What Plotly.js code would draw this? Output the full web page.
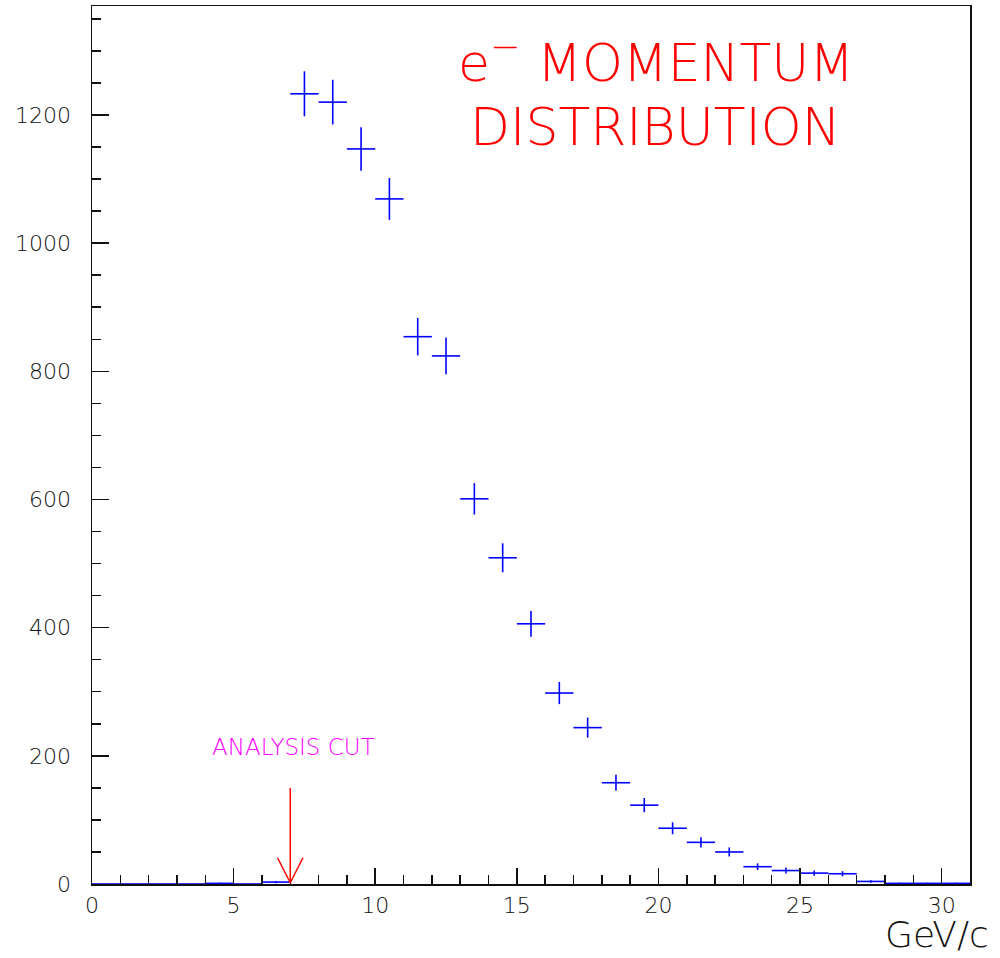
<!DOCTYPE html>
<html>
<head>
<meta charset="utf-8">
<script src="https://cdn.plot.ly/plotly-3.0.1.min.js"></script>
<style>html,body{margin:0;padding:0;background:#fff;}#chart{width:1000px;height:958px;}</style>
</head>
<body>
<div id="chart"></div>
<script>
// Bin centres (GeV/c), 1 GeV/c wide bins
const binCenters = [0.5,1.5,2.5,3.5,4.5,5.5,6.5,7.5,8.5,9.5,10.5,11.5,12.5,13.5,14.5,15.5,16.5,17.5,18.5,19.5,20.5,21.5,22.5,23.5,24.5,25.5,26.5,27.5,28.5,29.5,30.5];
// Entries per bin
const counts = [0,0,0,0,1,0,3,1233,1220,1147,1069,854,824,601,509,406,298,244,158,123,87,65,50,27,21,17,16,4,1,1,1];
// Vertical error
const errors = [0,0,0,0,1,0,1.7,35.1,34.9,33.9,32.7,29.2,28.7,24.5,22.6,20.1,17.3,15.6,12.6,11.1,9.3,8.1,7.1,5.2,4.6,4.1,4,2,1,1,1];
const xTicks = [0,5,10,15,20,25,30];
const xTickText = ['0','5','10','15','20','25','30'];
const yTicks = [0,200,400,600,800,1000,1200];
const yTickText = ['0','200','400','600','800','1000','1200'];
const cutValue = 7;
const cutArrowTop = 150;
const cutLabelX = 7.1;
const cutLabelY = 213;

const trace = {
  x: binCenters, y: counts, type: 'scatter', mode: 'markers',
  marker: {size: 1, color: '#0000ff'},
  error_x: {type: 'constant', value: 0.5, width: 0, thickness: 1.6, color: '#0000ff'},
  error_y: {type: 'data', array: errors, visible: true, width: 0, thickness: 1.6, color: '#0000ff'},
  cliponaxis: false, hoverinfo: 'skip'
};

const tickFont = {family: 'DejaVu Sans', size: 22, color: '#111', weight: 200};
const layout = {
  width: 1000, height: 958,
  margin: {l: 92, r: 30, t: 6, b: 74},
  paper_bgcolor: '#fff', plot_bgcolor: '#fff',
  showlegend: false,
  xaxis: {
    range: [0, 31], tickvals: xTicks, ticktext: xTickText,
    ticks: 'inside', ticklen: 16, tickwidth: 1.5, tickcolor: '#111',
    minor: {dtick: 1, tick0: 0, ticks: 'inside', ticklen: 9, tickwidth: 1.5, tickcolor: '#111', showgrid: false},
    showline: true, linecolor: '#111', linewidth: 1.5, mirror: true,
    showgrid: false, zeroline: false, tickfont: tickFont, ticklabelstandoff: 1
  },
  yaxis: {
    range: [0, 1370], tickvals: yTicks, ticktext: yTickText,
    ticks: 'inside', ticklen: 17, tickwidth: 1.5, tickcolor: '#111',
    minor: {dtick: 50, tick0: 0, ticks: 'inside', ticklen: 9, tickwidth: 1.5, tickcolor: '#111', showgrid: false},
    showline: true, linecolor: '#111', linewidth: 1.5, mirror: true,
    showgrid: false, zeroline: false, tickfont: tickFont, ticklabelstandoff: 15
  },
  shapes: [
    {type: 'line', xref: 'x', yref: 'y', x0: cutValue, x1: cutValue, y0: cutArrowTop, y1: 2, line: {color: '#ff0000', width: 1.5}},
    {type: 'line', xref: 'x', yref: 'y', x0: cutValue - 0.45, x1: cutValue, y0: 41, y1: 2, line: {color: '#ff0000', width: 1.5}},
    {type: 'line', xref: 'x', yref: 'y', x0: cutValue + 0.45, x1: cutValue, y0: 41, y1: 2, line: {color: '#ff0000', width: 1.5}}
  ],
  annotations: [
    {xref: 'paper', yref: 'paper', x: 0.642, y: 0.94, xanchor: 'center', yanchor: 'middle', showarrow: false,
     text: 'e<sup>\u2212</sup> MOMENTUM', font: {family: 'DejaVu Sans', size: 52, color: '#ff0000', weight: 200}},
    {xref: 'paper', yref: 'paper', x: 0.642, y: 0.862, xanchor: 'center', yanchor: 'middle', showarrow: false,
     text: 'DISTRIBUTION', font: {family: 'DejaVu Sans', size: 52, color: '#ff0000', weight: 200}},
    {xref: 'x', yref: 'y', x: cutLabelX, y: cutLabelY, xanchor: 'center', yanchor: 'middle', showarrow: false,
     text: 'ANALYSIS CUT', font: {family: 'DejaVu Sans', size: 23, color: '#ff00ff', weight: 200}},
    {xref: 'paper', yref: 'paper', x: 0.962, y: -0.057, xanchor: 'center', yanchor: 'middle', showarrow: false,
     text: 'GeV/c', font: {family: 'DejaVu Sans', size: 36, color: '#111', weight: 200}}
  ]
};

Plotly.newPlot('chart', [trace], layout, {displayModeBar: false, staticPlot: true});
</script>
</body>
</html>
